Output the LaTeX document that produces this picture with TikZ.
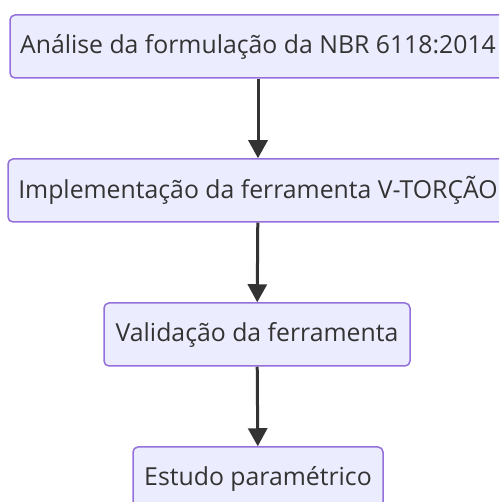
\documentclass[tikz,border=0pt]{standalone}
\usepackage{fontspec}
\setmainfont{Open Sans}
\usetikzlibrary{arrows.meta}
\definecolor{boxfill}{HTML}{ECECFF}
\definecolor{boxline}{HTML}{9370DB}
\definecolor{ink}{HTML}{333333}
\begin{document}
\begin{tikzpicture}[x=1pt,y=1pt,
    step box/.style={draw=boxline, fill=boxfill, line width=1.5pt, rounded corners=5pt,
      minimum height=63pt, inner sep=0pt, text=ink, font=\fontsize{24.8}{28}\selectfont},
    flow/.style={draw=ink, line width=3pt, -{Triangle[length=18pt,width=19pt]}}]
  \useasboundingbox (0,0) rectangle (499,502);
  \clip (0,0) rectangle (499,502);

    \node [step box, minimum width=496pt] (analise) at (258,455.5) {Análise da formulação da NBR 6118:2014};
    \node [step box, minimum width=500pt] (implem) at (258,311.5) {Implementação da ferramenta V-TORÇÃO};
    \node [step box, minimum width=306pt] (valid) at (257,167.5) {Validação da ferramenta};
    \node [step box, minimum width=250pt] (estudo) at (258,23.5) {Estudo paramétrico};

  \path[flow] (analise) -- (implem);
  \path[flow] (implem) -- (valid);
  \path[flow] (valid) -- (estudo);
\end{tikzpicture}
\end{document}
